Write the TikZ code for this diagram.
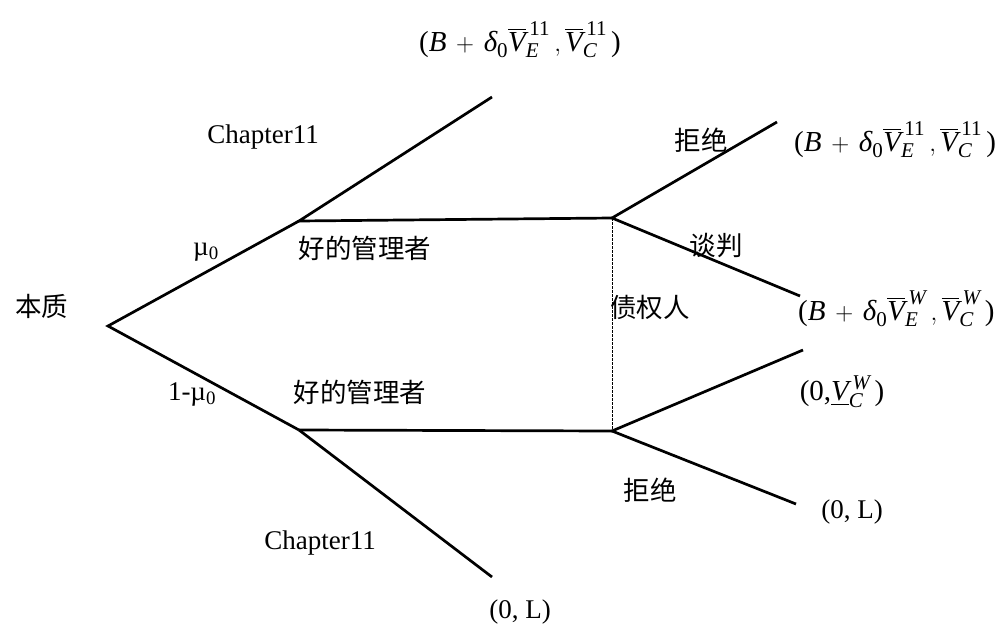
\documentclass[tikz,border=0pt]{standalone}
\usepackage{amsmath}
\usepackage{fontspec}
\setmainfont{Liberation Serif}
\newfontfamily\cjk{Noto Sans CJK SC}
\DeclareMathSizes{29}{29}{21}{16}
\newcommand{\ti}[1]{\text{\itshape #1}}
\newcommand{\tr}[1]{\text{\upshape #1}}
\newcommand{\payB}[2]{$\tr{(}\ti{B}\mathbin{\,+\,}\ti{δ}_{\tr{0}}\overline{\ti{V}}_{\ti{E}}^{\,#1}\,,\overline{\ti{V}}_{\ti{C}}^{\,#2}\,\tr{)}$}
\begin{document}
\begin{tikzpicture}[x=1pt,y=-1pt,
  branch/.style={line width=2.7pt},
  lbl/.style={inner sep=0pt,font=\fontsize{27}{32}\selectfont},
  mlbl/.style={inner sep=0pt,font=\fontsize{29}{34}\selectfont},
  clbl/.style={inner sep=0pt,font=\fontsize{26.5}{32}\selectfont\cjk}]
\useasboundingbox (0,0) rectangle (1007,632);
% decision points
\coordinate (root) at (108,326);
\coordinate (a) at (299,221);
\coordinate (b) at (299,430);
\coordinate (c) at (612,218);
\coordinate (d) at (612,431);
\coordinate (ach) at (492,97);
\coordinate (bch) at (492,577);
\coordinate (crej) at (777,122);
\coordinate (cneg) at (800,296);
\coordinate (dacc) at (803,350);
\coordinate (drej) at (796,504);
% branches
\draw[branch] (a) -- (root) -- (b);
\draw[branch] (ach) -- (a) -- (c);
\draw[branch] (b) -- (d);
\draw[branch] (b) -- (bch);
\draw[branch] (crej) -- (c) -- (cneg);
\draw[branch] (dacc) -- (d) -- (drej);
\draw[line width=1pt,dash pattern=on 2.5pt off 1.5pt] (c) -- (d);
% labels
\node[mlbl] (top) at (520,40) {\payB{\tr{11}}{\tr{11}}};
\node[lbl] (ch1) at (263,137) {Chapter11};
\node[clbl] (rej1) at (701,140) {拒绝};
\node[mlbl,anchor=west] (pay1) at (794,140) {\payB{\tr{11}}{\tr{11}}};
\node[lbl] (mu) at (206,252) {µ\textsubscript{0}};
\node[clbl] (good1) at (365,248) {好的管理者};
\node[clbl] (neg) at (716,246) {谈判};
\node[clbl] (nature) at (42,306) {本质};
\node[clbl] (cred) at (650,307) {债权人};
\node[mlbl,anchor=west] (pay2) at (798,309) {\payB{\ti{W}}{\ti{W}}};
\node[lbl] (mu2) at (192,394) {1-µ\textsubscript{0}};
\node[clbl] (good2) at (360,392) {好的管理者};
\node[mlbl] (pay3) at (842,392) {$\tr{(0,}\underline{\ti{V}}_{\ti{C}}^{\,\ti{W}}\,\tr{)}$};
\node[clbl] (rej2) at (650,490) {拒绝};
\node[lbl] (ch2) at (320,543) {Chapter11};
\node[lbl] (pay4) at (852,512) {(0, L)};
\node[lbl] (pay5) at (520,612) {(0, L)};
\end{tikzpicture}
\end{document}
